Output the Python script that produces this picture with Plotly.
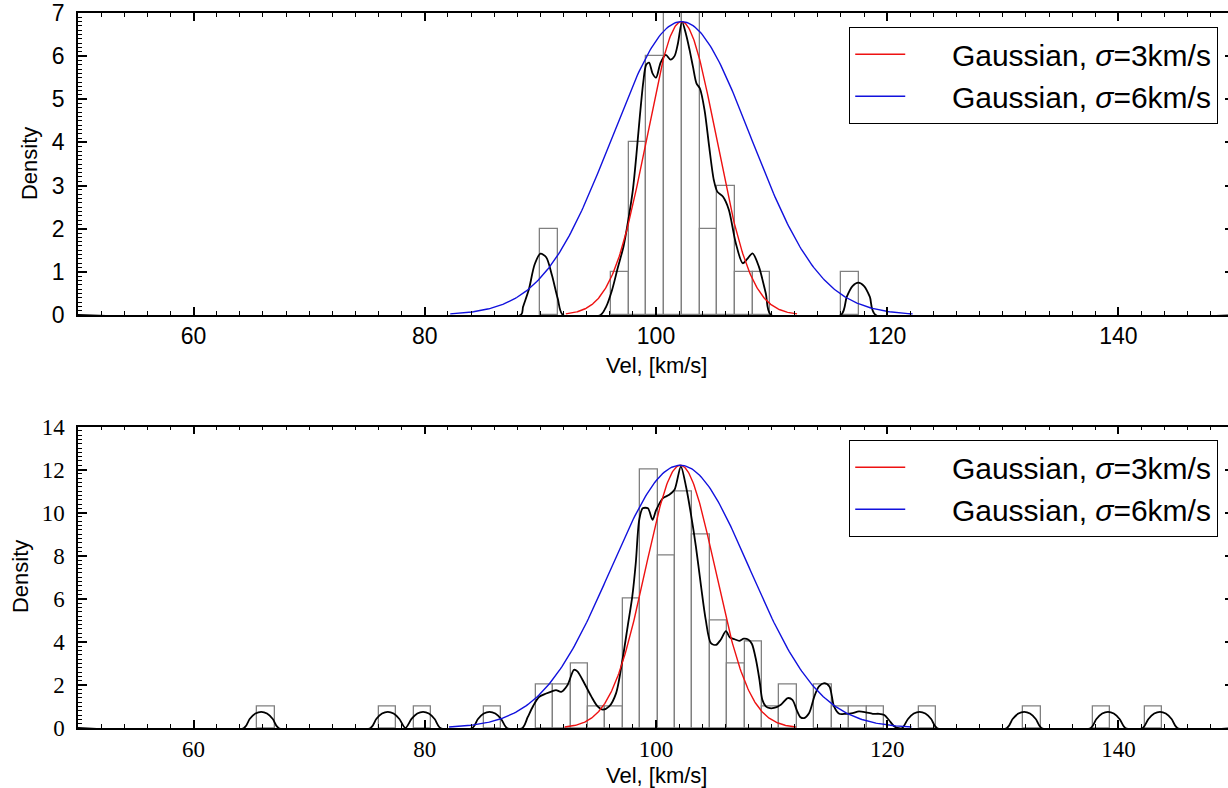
import numpy as np
import plotly.graph_objects as go

# ---------------- data: top panel ----------------
top_bin_edges = [89.97, 91.50, 93.03, 94.57, 96.10, 97.63, 99.17, 100.70, 102.23,
                 103.77, 105.30, 106.83, 108.37, 109.90, 111.43, 112.97, 114.50,
                 116.03, 117.57]
top_counts = [2, 0, 0, 0, 1, 4, 6, 7, 7, 2, 3, 1, 1, 0, 0, 0, 0, 1]

top_kde_x = [50, 88.3, 88.5, 89.0, 89.5, 90.0, 90.5, 91.0, 91.5, 91.95,
             95.2, 95.7, 96.2, 96.7, 97.2, 97.6, 98.0, 98.3, 98.6, 98.9, 99.15, 99.4,
             99.7, 100.0, 100.4, 100.85, 101.25, 101.6, 101.9, 102.25, 102.6, 102.9,
             103.2, 103.5, 103.8, 104.2, 104.6, 105.0, 105.3, 105.8, 106.3, 106.9,
             107.5, 107.9, 108.35, 108.9, 109.5, 109.95,
             116.0, 116.5, 117.0, 117.5, 118.0, 118.5, 119.0, 150]
top_kde_y = [0, 0, 0.19, 0.59, 1.17, 1.42, 1.34, 0.92, 0.38, 0,
             0, 0.2, 0.58, 1.1, 1.6, 2.2, 2.9, 3.7, 4.6, 5.4, 5.8, 5.85,
             5.6, 5.5, 5.85, 6.03, 5.92, 6.0, 6.3, 6.8, 6.5, 6.15,
             5.75, 5.37, 5.25, 4.75, 3.9, 3.13, 2.86, 2.74, 2.44, 1.67,
             1.2, 1.3, 1.43, 1.12, 0.5, 0,
             0, 0.42, 0.67, 0.75, 0.67, 0.42, 0, 0]

top_mu, top_amp = 102.2, 6.8

# ---------------- data: bottom panel ----------------
bot_bin_edges = [65.50, 67.01, 68.51, 70.02, 71.52, 73.03, 74.54, 76.04, 77.55, 79.05,
                 80.56, 82.07, 83.57, 85.08, 86.58, 88.09, 89.60, 91.10, 92.61, 94.11,
                 95.62, 97.13, 98.63, 100.14, 101.64, 103.15, 104.66, 106.16, 107.67,
                 109.17, 110.68, 112.19, 113.69, 115.20, 116.70, 118.21, 119.72, 121.22,
                 122.73, 124.23, 125.74, 127.25, 128.75, 130.26, 131.76, 133.27, 134.78,
                 136.28, 137.79, 139.29, 140.80, 142.31, 143.81]
bot_counts = [1, 0, 0, 0, 0, 0, 0, 1, 0, 1,
              0, 0, 0, 1, 0, 0, 2, 2, 3, 1,
              1, 6, 12, 8, 11, 9, 5, 3, 4, 1,
              2, 0, 2, 1, 1, 1, 0, 0, 1, 0,
              0, 0, 0, 0, 1, 0, 0, 0, 1, 0,
              0, 1]

bot_kde_x = [50,
             64.35, 64.85, 65.35, 65.85, 66.35, 66.85, 67.35,
             75.3, 75.8, 76.3, 76.8, 77.3, 77.8, 78.32,
             78.85, 79.35, 79.85, 80.35, 80.85, 81.35,
             84.1, 84.6, 85.1, 85.6, 86.1, 86.6, 87.1,
             88.45, 88.9, 89.35, 89.9, 90.5, 91.0, 91.35, 91.8, 92.35, 92.9, 93.2,
             93.8, 94.4, 94.95, 95.4, 95.95, 96.55, 97.1, 97.55, 97.95, 98.25,
             98.55, 98.85, 99.3, 99.7, 100.0, 100.6, 101.15, 101.6, 102.15, 102.6,
             103.0, 103.45, 103.9, 104.3, 104.75, 105.2, 105.6, 106.05, 106.4,
             106.8, 107.2, 107.6, 108.0, 108.3, 108.65, 108.95, 109.2, 109.5,
             109.85, 110.2, 110.8, 111.4, 111.8, 112.2, 112.5, 112.8, 113.25,
             113.7, 114.1, 114.55, 115.0, 115.4, 115.85, 116.4, 117.0, 117.55,
             118.15, 118.75, 119.3, 119.75, 120.15, 120.6, 120.9,
             121.3, 121.8, 122.3, 122.8, 123.3, 123.8, 124.3,
             130.35, 130.85, 131.35, 131.85, 132.35, 132.85, 133.35,
             137.6, 138.1, 138.6, 139.1, 139.6, 140.1, 140.6,
             142.1, 142.6, 143.1, 143.6, 144.1, 144.6, 145.1,
             150]
bot_kde_y = [0,
             0, 0.42, 0.67, 0.75, 0.67, 0.42, 0,
             0, 0.42, 0.67, 0.75, 0.67, 0.42, 0,
             0.42, 0.67, 0.75, 0.67, 0.42, 0,
             0, 0.42, 0.67, 0.75, 0.67, 0.42, 0,
             0, 0.5, 1.0, 1.45, 1.6, 1.7, 1.76, 1.68, 2.0, 2.7, 2.63,
             2.08, 1.47, 1.0, 0.85, 1.0, 1.62, 3.17, 4.72, 6.11, 7.66,
             9.67, 10.2, 10.2, 9.67, 10.1, 10.67, 10.83, 11.06, 12.14, 11.2,
             10.0, 8.43, 6.57, 5.03, 3.94, 3.86, 4.1, 4.5, 4.2,
             4.12, 4.05, 4.15, 4.1, 3.9, 3.17, 2.24, 1.31, 1.0,
             0.92, 0.93, 1.08, 1.39, 1.31, 0.8, 0.5, 0.46, 0.7,
             1.47, 1.93, 2.08, 1.93, 1.0, 0.66, 0.66, 0.69, 0.77,
             0.73, 0.66, 0.66, 0.6, 0.37, 0.08, 0,
             0, 0.42, 0.67, 0.75, 0.67, 0.42, 0,
             0, 0.42, 0.67, 0.75, 0.67, 0.42, 0,
             0, 0.42, 0.67, 0.75, 0.67, 0.42, 0,
             0, 0.42, 0.67, 0.75, 0.67, 0.42, 0,
             0]

bot_mu, bot_amp = 102.1, 12.2

sigma_narrow, sigma_wide = 3.0, 6.0
x_ticks = [60, 80, 100, 120, 140]
PAD = "\u00a0" * 5
label_narrow = PAD + "Gaussian, <i>σ</i>=3km/s"
label_wide = PAD + "Gaussian, <i>σ</i>=6km/s"

# ---------------- figure ----------------
W, H = 1236, 788
ML, MR, MT, MB = 78, 0, 13, 60
PW, PH = W - ML - MR, H - MT - MB

SANS = "Liberation Sans, Arial, sans-serif"
SERIF = "Liberation Serif, Times New Roman, serif"
TICK_SIZE = 23

fig = go.Figure()


def add_panel(edges, counts, kx, ky, mu, amp, xa, ya, legend):
    edges = np.asarray(edges)
    counts = np.asarray(counts, dtype=float)
    centers = (edges[:-1] + edges[1:]) / 2
    widths = np.diff(edges)
    m = counts > 0
    fig.add_trace(go.Bar(x=centers[m], y=counts[m], width=widths[m],
                         marker=dict(color="rgba(0,0,0,0)",
                                     line=dict(color="#808080", width=1.3)),
                         xaxis=xa, yaxis=ya, showlegend=False, hoverinfo="skip"))
    fig.add_trace(go.Scatter(x=kx, y=ky, mode="lines",
                             line=dict(color="black", width=1.8, shape="spline", smoothing=0.8),
                             xaxis=xa, yaxis=ya, showlegend=False, hoverinfo="skip"))
    for s, col, lab in [(sigma_narrow, "#ee1111", label_narrow), (sigma_wide, "#1111dd", label_wide)]:
        gx = np.linspace(mu - 10 * s / 3, mu + 10 * s / 3, 300)
        gy = amp * np.exp(-(gx - mu) ** 2 / (2 * s ** 2))
        fig.add_trace(go.Scatter(x=gx, y=gy, mode="lines", name=lab,
                                 line=dict(color=col, width=1.4),
                                 xaxis=xa, yaxis=ya, legend=legend))


add_panel(top_bin_edges, top_counts, top_kde_x, top_kde_y, top_mu, top_amp, "x", "y", "legend")
add_panel(bot_bin_edges, bot_counts, bot_kde_x, bot_kde_y, bot_mu, bot_amp, "x2", "y2", "legend2")

top_dom = [1 - (315 - MT) / PH, 1]
bot_dom = [0, (MT + PH - 426.5) / PH]


def xaxis(font, anchor):
    return dict(range=[50, 150], domain=[0, 1], anchor=anchor,
                tickvals=x_ticks, ticks="inside", ticklen=8, tickwidth=1.5, tickcolor="black",
                minor=dict(dtick=2, tick0=50, ticks="inside", ticklen=4, tickwidth=1.2, tickcolor="black"),
                showline=True, linewidth=1.5, linecolor="black", mirror="ticks",
                showgrid=False, zeroline=False, tickfont=dict(family=font, size=TICK_SIZE, color="black"),
                ticklabelstandoff=0, ticklabeloverflow="allow")


def yaxis(font, rng, dtick, mdtick, dom, anchor):
    return dict(range=rng, domain=dom, anchor=anchor, dtick=dtick, tick0=0,
                ticks="inside", ticklen=9, tickwidth=1.5, tickcolor="black",
                minor=dict(dtick=mdtick, tick0=0, ticks="inside", ticklen=4.5, tickwidth=1.0, tickcolor="black"),
                showline=True, linewidth=1.5, linecolor="black", mirror="ticks",
                showgrid=False, zeroline=False, tickfont=dict(family=font, size=TICK_SIZE, color="black"),
                ticklabelstandoff=7, ticklabeloverflow="allow")


leg_common = dict(xanchor="right", yanchor="top", bordercolor="black", borderwidth=1.2,
                  bgcolor="white", font=dict(family=SANS, size=30, color="black"),
                  itemwidth=50, tracegroupgap=0)

fig.update_layout(
    width=W, height=H,
    margin=dict(l=ML, r=MR, t=MT, b=MB, pad=0),
    paper_bgcolor="white", plot_bgcolor="white",
    barmode="overlay", bargap=0,
    xaxis=xaxis(SANS, "y"),
    yaxis=yaxis(SANS, [0, 7], 1, 0.1, top_dom, "x"),
    xaxis2=xaxis(SERIF, "y2"),
    yaxis2=yaxis(SERIF, [0, 14], 2, 0.2, bot_dom, "x2"),
    legend=dict(x=(1220 - ML) / PW, y=(MT + PH - 27) / PH, **leg_common),
    legend2=dict(x=(1220 - ML) / PW, y=(MT + PH - 440) / PH, **leg_common),
    showlegend=True,
)

title_font = dict(family=SANS, size=22, color="black")
ann = dict(showarrow=False, font=title_font, xanchor="center", yanchor="middle")
fig.add_annotation(text="Density", xref="paper", yref="paper", x=(30 - ML) / PW,
                   y=(MT + PH - 164) / PH, textangle=-90, **ann)
fig.add_annotation(text="Density", xref="paper", yref="paper", x=(20 - ML) / PW,
                   y=(MT + PH - 577) / PH, textangle=-90, **ann)
fig.add_annotation(text="Vel, [km/s]", xref="x", yref="paper", x=100,
                   y=(MT + PH - 365) / PH, **ann)
fig.add_annotation(text="Vel, [km/s]", xref="x2", yref="paper", x=100,
                   y=(MT + PH - 776) / PH, **ann)

fig.write_html("out.html",
               post_script="document.body.style.overflow='hidden';document.documentElement.style.overflow='hidden';")
